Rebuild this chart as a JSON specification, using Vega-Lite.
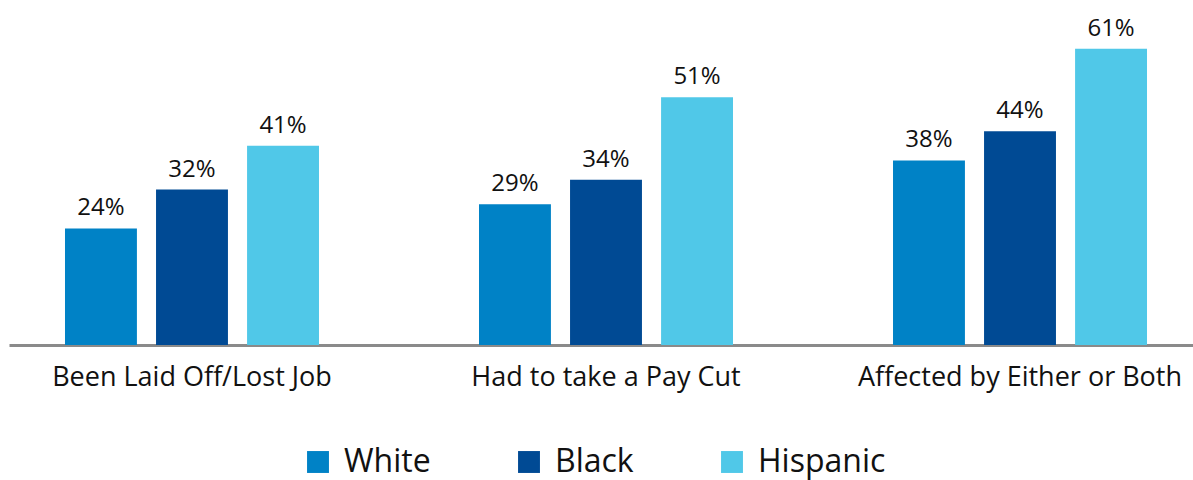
{
  "$schema": "https://vega.github.io/schema/vega-lite/v6.json",
  "width": 1194,
  "height": 340,
  "padding": {"left": 9, "top": 5, "right": 0, "bottom": 135},
  "autosize": {"type": "none"},
  "background": "white",
  "config": {
    "font": "Open Sans",
    "view": {"stroke": null}
  },
  "data": {
    "values": [
      {"category": "Been Laid Off/Lost Job", "group": "White", "value": 0.24},
      {"category": "Been Laid Off/Lost Job", "group": "Black", "value": 0.32},
      {"category": "Been Laid Off/Lost Job", "group": "Hispanic", "value": 0.41},
      {"category": "Had to take a Pay Cut", "group": "White", "value": 0.29},
      {"category": "Had to take a Pay Cut", "group": "Black", "value": 0.34},
      {"category": "Had to take a Pay Cut", "group": "Hispanic", "value": 0.51},
      {"category": "Affected by Either or Both", "group": "White", "value": 0.38},
      {"category": "Affected by Either or Both", "group": "Black", "value": 0.44},
      {"category": "Affected by Either or Both", "group": "Hispanic", "value": 0.61}
    ]
  },
  "encoding": {
    "x": {
      "field": "category",
      "type": "nominal",
      "sort": null,
      "title": null,
      "scale": {"paddingInner": 0.35, "paddingOuter": 0.117},
      "axis": {
        "labelAngle": 0,
        "labelFontSize": 27,
        "labelColor": "#111111",
        "labelPadding": 19,
        "labelLimit": 0,
        "ticks": false,
        "domainColor": "#8a8a8a",
        "domainWidth": 3,
        "grid": false
      }
    },
    "xOffset": {
      "field": "group",
      "type": "nominal",
      "sort": ["White", "Black", "Hispanic"],
      "scale": {"paddingInner": 0.21, "paddingOuter": 0.083}
    },
    "y": {
      "field": "value",
      "type": "quantitative",
      "scale": {"domain": [0, 0.7]},
      "axis": null
    }
  },
  "layer": [
    {
      "mark": {"type": "bar"},
      "encoding": {
        "color": {
          "field": "group",
          "type": "nominal",
          "sort": ["White", "Black", "Hispanic"],
          "scale": {"domain": ["White", "Black", "Hispanic"], "range": ["#0082C6", "#004A94", "#50C8E8"]},
          "legend": {
            "title": null,
            "orient": "none",
            "legendX": 293,
            "legendY": 441,
            "direction": "horizontal",
            "symbolType": "square",
            "symbolSize": 480,
            "symbolStrokeWidth": 0,
            "labelFontSize": 32,
            "labelColor": "#111111",
            "labelOffset": 10,
            "columnPadding": 82
          }
        }
      }
    },
    {
      "mark": {"type": "text", "baseline": "bottom", "dy": -8, "fontSize": 24, "color": "#111111"},
      "encoding": {
        "text": {"field": "value", "type": "quantitative", "format": ".0%"},
        "detail": {"field": "group"}
      }
    }
  ]
}
